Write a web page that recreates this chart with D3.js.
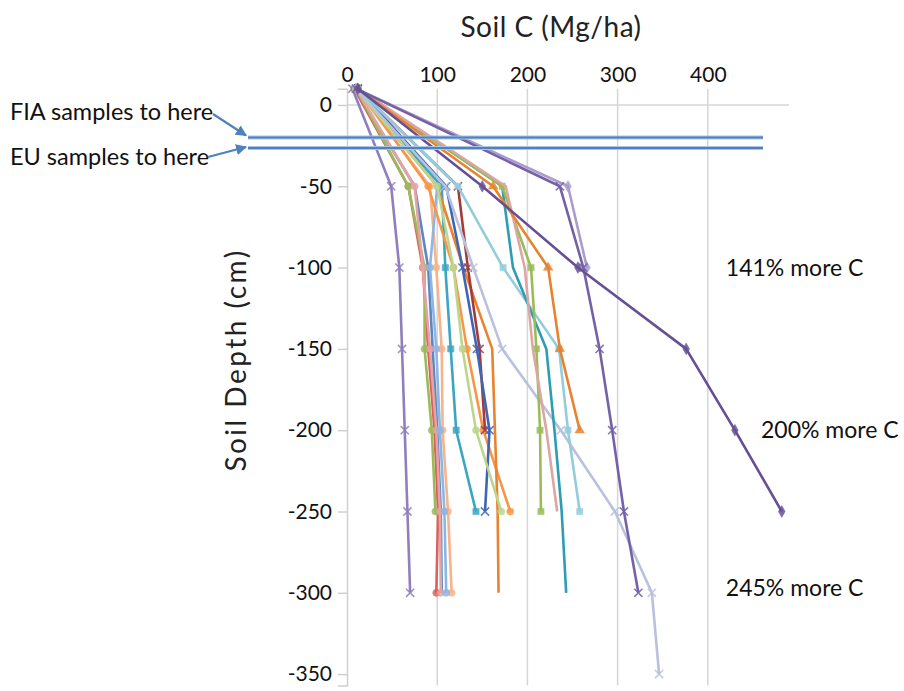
<!DOCTYPE html>
<html>
<head>
<meta charset="utf-8">
<script src="https://cdn.jsdelivr.net/npm/d3@7"></script>
<style>
body{margin:0;background:#fff;}
svg{font-family:Lato,"Open Sans",sans-serif;}
</style>
</head>
<body>
<svg id="chart" width="904" height="691"></svg>
<script>
// depths (cm) the samples were read at
var depths = [10, -50, -100, -150, -200, -250, -300, -350];

// soil C (Mg/ha) per profile, one value per depth (shorter = profile ends earlier)
var series = [
  [6, 49, 58, 61, 64, 67, 70],
  [8, 68, 84, 90, 97, 101, 99],
  [9, 75, 90, 95, 100, 104, 105],
  [10, 68, 86, 86, 94, 98],
  [10, 75, 84, 92, 99, 103, 104],
  [10, 92, 99, 105, 106, 112, 116],
  [12, 100, 92, 99, 103, 108, 110],
  [10, 105, 109, 115, 121, 143],
  [12, 90, 118, 133, 151, 181],
  [10, 100, 129, 161, 164, 167, 168],
  [12, 123, 134, 147, 153],
  [12, 110, 128, 144, 158, 153],
  [10, 100, 118, 128, 143, 171],
  [10, 109, 140, 172, 237, 297, 338, 346],
  [12, 123, 173, 235, 245, 258],
  [12, 172, 184, 221, 230, 238, 243],
  [12, 172, 204, 210, 214, 215],
  [12, 176, 197, 206, 221, 233],
  [12, 162, 223, 236, 258],
  [10, 245, 266],
  [10, 236, 262, 280, 294, 307, 323],
  [12, 150, 256, 376, 430, 482]
];
var seriesColors = ["#8f7fbd","#d9625f","#5b87c5","#9bbb59","#e6a3a3","#f8b38b","#8db6e3","#3aa6c2",
  "#f79646","#e8832f","#a53a3c","#3e66b5","#bcd68d","#b9c1dc","#93cddd","#2d9db3",
  "#9bbb59","#dba7a4","#e7832e","#aa9dcb","#7561a6","#654f95"];
var seriesMarkers = ["x","circle","none","circle","circle","circle","circle","square",
  "circle","none","x","x","circle","x","square","none",
  "square","none","triangle","diamond","x","diamond"];

var xTicks = [0, 100, 200, 300, 400];
var yTicks = [0, -50, -100, -150, -200, -250, -300, -350];
var sampleDepths = [-20, -26.5];
var sampleLabels = ["FIA samples to here", "EU samples to here"];
var notes = [
  {text: "141% more C", x: 420, d: -105},
  {text: "200% more C", x: 459, d: -205},
  {text: "245% more C", x: 420, d: -302}
];

var svg = d3.select("#chart");
var x = d3.scaleLinear().domain([0, 490]).range([347, 789]);
var y = d3.scaleLinear().domain([10, -357]).range([88.7, 685.5]);

// vertical gridlines
svg.append("g").selectAll("line").data(xTicks.slice(1)).join("line")
  .attr("x1", d => x(d)).attr("x2", d => x(d))
  .attr("y1", y(10)).attr("y2", y(-357))
  .attr("stroke", "#d6d6d6").attr("stroke-width", 1.5);
// zero line
svg.append("line").attr("x1", x(0)).attr("x2", x(490))
  .attr("y1", y(0)).attr("y2", y(0))
  .attr("stroke", "#d6d6d6").attr("stroke-width", 1.5);

// y axis
var yAxis = svg.append("g").attr("transform", "translate(" + x(0) + ",0)")
  .call(d3.axisLeft(y).tickValues(yTicks).tickSize(9).tickPadding(6).tickFormat(d => String(d)));
yAxis.select(".domain").attr("stroke", "#d0d0d0").attr("stroke-width", 1.5);
yAxis.selectAll(".tick line").attr("stroke", "#d0d0d0").attr("stroke-width", 1.5);
yAxis.selectAll("text").attr("font-size", 21).attr("fill", "#111").attr("font-family", "Lato");

// x axis on top
var xAxis = svg.append("g").attr("transform", "translate(0," + (y(10) - 1) + ")")
  .call(d3.axisTop(x).tickValues(xTicks).tickSize(0).tickPadding(6));
xAxis.select(".domain").remove();
xAxis.selectAll("text").attr("font-size", 21).attr("fill", "#111").attr("font-family", "Lato");

svg.append("text").attr("x", 551).attr("y", 37).attr("text-anchor", "middle")
  .attr("font-size", 28).attr("letter-spacing", 0.5).attr("fill", "#222").text("Soil C (Mg/ha)");
svg.append("text").attr("transform", "translate(246,360) rotate(-90)")
  .attr("text-anchor", "middle").attr("font-size", 28).attr("letter-spacing", 2.5).attr("fill", "#222")
  .text("Soil Depth (cm)");

// profiles
var line = d3.line().x(d => x(d[0])).y(d => y(d[1]));
var sym = {
  x: d3.symbolTimes || d3.symbolCross, circle: d3.symbolCircle, square: d3.symbolSquare,
  triangle: d3.symbolTriangle, diamond: d3.symbolDiamond
};
series.forEach(function(vals, i){
  var pts = vals.map((v, j) => [v, depths[j]]);
  var g = svg.append("g");
  g.append("path").attr("d", line(pts)).attr("fill", "none")
    .attr("stroke", seriesColors[i]).attr("stroke-width", 2.6).attr("stroke-linejoin", "round");
  if (seriesMarkers[i] != "none") {
    var isX = seriesMarkers[i] == "x";
    g.selectAll("path.m").data(pts).join("path").attr("class", "m")
      .attr("transform", d => "translate(" + x(d[0]) + "," + y(d[1]) + ")")
      .attr("d", d3.symbol().type(sym[seriesMarkers[i]]).size(isX ? 45 : 40))
      .attr("fill", isX ? "none" : seriesColors[i])
      .attr("stroke", seriesColors[i]).attr("stroke-width", isX ? 1.6 : 0.5)
      .attr("opacity", 0.85);
  }
});

// sample depth lines + arrows
var blue = "#4f81bd";
svg.append("defs").append("marker").attr("id", "arr")
  .attr("viewBox", "0 0 10 10").attr("refX", 9).attr("refY", 5)
  .attr("markerWidth", 5).attr("markerHeight", 5).attr("orient", "auto")
  .append("path").attr("d", "M0,0L10,5L0,10z").attr("fill", blue);
sampleDepths.forEach(function(d){
  svg.append("line").attr("x1", 248).attr("x2", 763).attr("y1", y(d)).attr("y2", y(d))
    .attr("stroke", "#a9c4e4").attr("stroke-width", 4);
  svg.append("line").attr("x1", 248).attr("x2", 763).attr("y1", y(d)).attr("y2", y(d))
    .attr("stroke", blue).attr("stroke-width", 2);
});
var labelY = [120, 165];
var arrowEnd = [[246, y(sampleDepths[0]) - 2], [246, y(sampleDepths[1]) - 1]];
var arrowStart = [[213, 114], [208, 157]];
sampleLabels.forEach(function(t, i){
  svg.append("text").attr("x", 10).attr("y", labelY[i]).attr("font-size", 23.5)
    .attr("fill", "#111").text(t);
  svg.append("line").attr("x1", arrowStart[i][0]).attr("y1", arrowStart[i][1])
    .attr("x2", arrowEnd[i][0]).attr("y2", arrowEnd[i][1])
    .attr("stroke", blue).attr("stroke-width", 2.2).attr("marker-end", "url(#arr)");
});

svg.append("g").selectAll("text").data(notes).join("text")
  .attr("x", d => x(d.x)).attr("y", d => y(d.d))
  .attr("font-size", 23).attr("fill", "#111").text(d => d.text);
</script>
</body>
</html>
